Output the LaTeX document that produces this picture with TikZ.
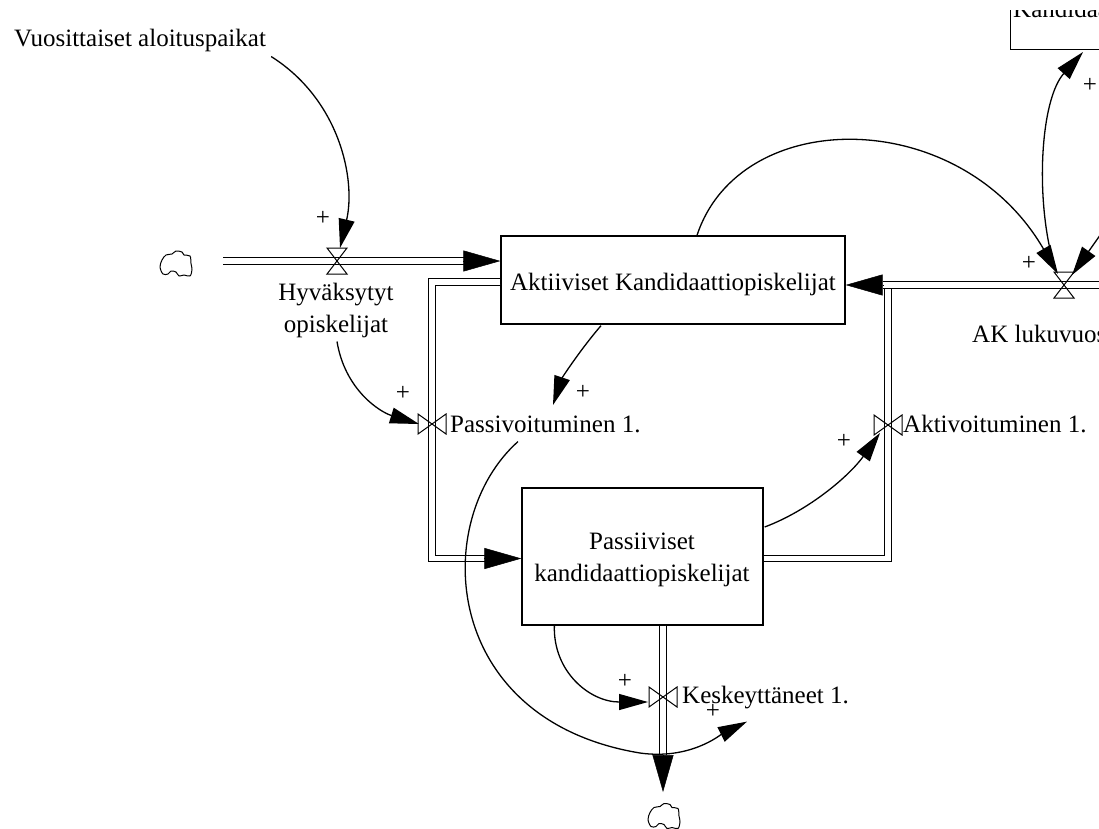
\documentclass[tikz,border=0pt]{standalone}
\usepackage{fontspec}
\setmainfont{Liberation Serif}
\usetikzlibrary{arrows.meta,calc}

\tikzset{
  stock/.style={draw, line width=1.3pt, inner sep=0pt},
  lbl/.style={inner sep=0pt, font=\fontsize{25}{32}\selectfont},
  link/.style={line width=1.3pt, -{Triangle[length=29pt,width=16pt]}},
  pipe/.style={double, double distance=5.5pt, line width=1.1pt},
  flowtip/.style={line width=0.5pt, -{Triangle[length=37pt,width=21pt]}},
  pics/vvalve/.style={code={\draw[line width=1pt] (-10,-13) -- (10,13) -- (-10,13) -- (10,-13) -- cycle;}},
  pics/hvalve/.style={code={\draw[line width=1pt] (-14,-10) -- (14,10) -- (14,-10) -- (-14,10) -- cycle;}},
  % source / sink cloud, drawn round its centre
  pics/puff/.style={code={\draw[line width=1pt, line join=round]
    plot[smooth cycle, tension=0.55] coordinates {
      (-13,-3.5) (-9,-8.5) (-3,-9.5) (1,-12.5) (7,-11.5) (9,-8.5) (15,-7.5)
      (16,0) (17,6) (15,12.5) (9,11.5) (4,12.5) (1,8.5) (-4,7.5) (-7,10.5)
      (-12,10.5) (-15,3.5)};}},
}

\begin{document}
\begin{tikzpicture}[x=1pt,y=-1pt]
\useasboundingbox (0,0) rectangle (1099,828);
\clip (0,0) rectangle (1099,828);

% stocks
\node[stock, minimum width=344pt, minimum height=88pt] (ak) at (673,280) {};
\node[lbl, anchor=base] (aktxt) at (673,290) {Aktiiviset Kandidaattiopiskelijat};
\node[stock, minimum width=241pt, minimum height=137pt] (pk) at (642.5,556.5) {};
\node[lbl, align=center] (pktxt) at (642,560) {Passiiviset\\kandidaattiopiskelijat};
\begin{scope}
  \clip (990,10) rectangle (1110,70);
  \node[stock, minimum width=140pt, minimum height=100pt, anchor=south west] (kd) at (1010,50) {};
  \node[lbl, anchor=base west] (kdtxt) at (1013,17) {Kandidaatit};
\end{scope}

% clouds
\coordinate (src) at (175,263.5);
\coordinate (kcl) at (663,816);
\pic at (src) {puff};
\pic at (kcl) {puff};

% valves and pipe ends
\coordinate (v1) at (337,261);
\coordinate (v2) at (432,424);
\coordinate (v3) at (888,425);
\coordinate (v4) at (663,697);
\coordinate (v5) at (1064,285);
\coordinate (p1s) at (223,261);
\coordinate (akr) at (1120,285);
\coordinate (kend) at (663,792);
\coordinate (ext) at (1115,214);

% flow pipes
\draw[pipe, shorten >=36pt] (p1s) -- (v1) -- (ak.west |- v1);
\draw[flowtip] ($(ak.west |- v1)+(-37,0)$) -- (ak.west |- v1);

\draw[pipe, shorten >=35pt] ($(ak.west)+(0,2)$) -| (v2) |- ($(pk.west)+(0,2)$);
\draw[flowtip] ($(pk.west)+(-35,2)$) -- ($(pk.west)+(0,2)$);

\draw[pipe] ($(pk.east)+(0,2)$) -| (v3) -- (v3 |- 0,281);

\draw[pipe, shorten >=37pt] (akr) -- (v5) -- ($(ak.east)+(0,5)$);
\draw[flowtip] ($(ak.east)+(37,5)$) -- ($(ak.east)+(0,5)$);

\draw[pipe, shorten >=37pt] (pk.south -| v4) -- (v4) -- (kend);
\draw[flowtip] ($(kend)+(0,-37)$) -- (kend);

\pic at (v1) {vvalve};
\pic at (v2) {hvalve};
\pic at (v3) {hvalve};
\pic at (v4) {hvalve};
\pic at (v5) {vvalve};

% variable names
\node[lbl, anchor=base] (vuo) at (140,46) {Vuosittaiset aloituspaikat};
\node[lbl, align=center] (hyv) at (336,310) {Hyväksytyt\\opiskelijat};
\node[lbl, anchor=base west] (pas) at (450,432) {Passivoituminen 1.};
\node[lbl, anchor=base west] (akt) at (903,432) {Aktivoituminen 1.};
\node[lbl, anchor=base west] (kes) at (682,703) {Keskeyttäneet 1.};
\node[lbl, anchor=base west] (aklv) at (972,342) {AK lukuvuosi 1.};

% causal links
\draw[link] ($(vuo.south east)+(5,5)$) .. controls (340,100) and (356,180) .. ($(v1)+(3,-13)$);
\draw[link] ($(hyv.south)+(1,4)$) .. controls (345,390) and (380,412) .. ($(v2)+(-13,0)$);
\draw[link] ($(ak.south)+(-72,1)$) .. controls (580,350) and (562,378) .. (553,405);
\draw[link] ($(pas.south west)+(68,9)$) .. controls (430,520) and (440,720) .. (640,753)
            .. controls (690,760) and (720,735) .. ($(kes.south west)+(65,13)$);
\draw[link] ($(pk.south west)+(33,0)$) .. controls (553,672) and (590,702) .. ($(v4)+(-15,5)$);
\draw[link] ($(pk.east)+(1,-29.5)$) .. controls (810,510) and (850,475) .. ($(v3)+(-8,8)$);
\draw[link] ($(ak.north)+(24,0)$) .. controls (740,105) and (960,105) .. ($(v5)+(-6,-11)$);
\draw[link] ($(v5)+(-10,-20)$) .. controls (1035,200) and (1040,100) .. ($(kd.south west)+(73,2)$);
\draw[link] (ext) -- ($(v5)+(8,-10)$);

% polarities
\node[lbl] (s1) at (323,218) {+};
\node[lbl] (s2) at (403,393) {+};
\node[lbl] (s3) at (583,392) {+};
\node[lbl] (s4) at (844,441) {+};
\node[lbl] (s5) at (625,681) {+};
\node[lbl] (s6) at (713,711) {+};
\node[lbl] (s7) at (1029,263) {+};
\node[lbl] (s8) at (1090,85) {+};
\end{tikzpicture}
\end{document}
